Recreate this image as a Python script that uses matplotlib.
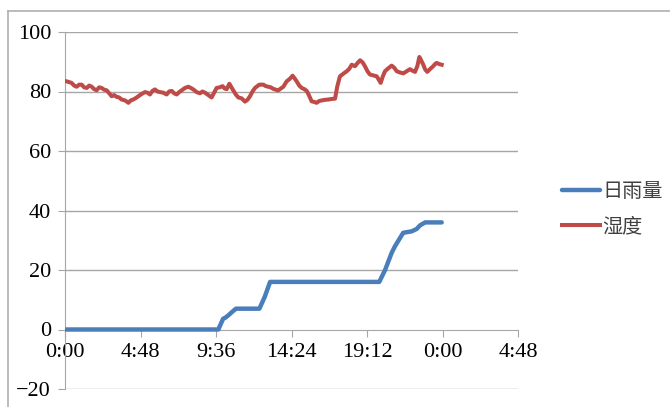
import matplotlib
matplotlib.use("Agg")
import matplotlib.pyplot as plt
from matplotlib.lines import Line2D

# rain: hours since 0:00, cumulative mm
rain_h = [0, 9.75, 10.05, 10.2, 10.37, 10.6, 10.87, 12.36, 12.7, 13.04,
          19.98, 20.35, 20.77, 20.98, 21.5, 22.04, 22.36, 22.57, 22.9, 23.95]
rain_v = [0, 0, 3.6, 4.0, 4.7, 5.8, 7.0, 7.0, 11.0, 16.0,
          16.0, 20.0, 25.8, 28.0, 32.5, 33.0, 33.8, 35.0, 36.0, 36.0]

# humidity: hours since 0:00, %
hum_h = [0.11, 0.42, 0.58, 0.74, 0.90, 1.06, 1.22, 1.38, 1.54, 1.70,
         1.85, 2.01, 2.17, 2.33, 2.49, 2.65, 2.81, 2.97, 3.12, 3.28,
         3.44, 3.60, 3.82, 4.03, 4.18, 4.34, 4.50, 4.66, 4.88, 5.09,
         5.25, 5.40, 5.56, 5.72, 5.88, 6.04, 6.25, 6.46, 6.62, 6.78,
         6.94, 7.10, 7.26, 7.42, 7.63, 7.84, 8.00, 8.16, 8.37, 8.58,
         8.74, 8.90, 9.11, 9.32, 9.48, 9.64, 9.83, 10.02, 10.15, 10.28,
         10.45, 10.58, 10.70, 10.86, 11.02, 11.23, 11.44, 11.60, 11.76, 11.92,
         12.08, 12.35, 12.61, 12.77, 12.93, 13.08, 13.24, 13.40, 13.56, 13.72,
         13.88, 14.09, 14.28, 14.47, 14.60, 14.73, 14.89, 15.05, 15.21, 15.37,
         15.52, 15.68, 15.84, 16.00, 16.16, 16.32, 16.53, 16.74, 16.95, 17.17,
         17.31, 17.48, 17.70, 17.91, 18.07, 18.23, 18.44, 18.60, 18.76, 18.92,
         19.07, 19.23, 19.39, 19.60, 19.82, 20.07, 20.20, 20.34, 20.55, 20.77,
         20.93, 21.09, 21.30, 21.51, 21.72, 21.93, 22.09, 22.25, 22.40, 22.53,
         22.65, 22.78, 22.90, 23.03, 23.22, 23.41, 23.52, 23.63, 23.80, 23.95]
hum_v = [83.4, 82.9, 82.0, 81.6, 82.3, 82.3, 81.4, 81.2, 82.0, 81.6,
         80.8, 80.4, 81.4, 81.2, 80.6, 80.4, 79.4, 78.4, 78.8, 78.2,
         78.0, 77.3, 77.0, 76.2, 77.0, 77.3, 77.8, 78.4, 79.2, 79.8,
         79.6, 79.0, 80.2, 80.7, 80.0, 79.8, 79.6, 79.0, 80.0, 80.2,
         79.4, 79.0, 79.8, 80.4, 81.2, 81.6, 81.2, 80.7, 79.8, 79.4,
         80.0, 79.6, 78.8, 78.0, 79.6, 81.2, 81.4, 81.8, 81.0, 80.8,
         82.6, 81.4, 80.4, 79.0, 78.0, 77.7, 76.6, 77.2, 78.4, 80.0,
         81.2, 82.3, 82.3, 81.8, 81.6, 81.4, 80.9, 80.6, 80.4, 81.0,
         81.6, 83.4, 84.2, 85.3, 84.4, 83.4, 82.0, 81.2, 80.8, 80.2,
         78.6, 76.7, 76.5, 76.2, 76.8, 77.0, 77.2, 77.3, 77.5, 77.6,
         81.7, 85.1, 86.0, 86.8, 87.6, 89.0, 88.5, 89.6, 90.5, 89.8,
         88.5, 86.8, 85.7, 85.4, 85.1, 82.9, 85.0, 86.8, 87.8, 88.7,
         88.0, 86.8, 86.4, 86.1, 86.8, 87.5, 87.0, 86.6, 88.5, 91.6,
         90.4, 89.0, 87.4, 86.6, 87.6, 88.5, 89.2, 89.6, 89.2, 89.0]

xticks = [0, 4.8, 9.6, 14.4, 19.2, 24.0, 28.8]
xlabels = ['0:00', '4:48', '9:36', '14:24', '19:12', '0:00', '4:48']
yticks = [-20, 0, 20, 40, 60, 80, 100]
ylabels = ['\u221220', '0', '20', '40', '60', '80', '100']

plt.rcParams['font.family'] = ['Liberation Serif', 'Noto Sans CJK SC']

fig = plt.figure(figsize=(6.7, 4.07), dpi=100)
ax = fig.add_axes([65/670, 18/407, 453/670, 357/407])

grid_c = '#a6a6a6'
for yv in yticks:
    if yv != 0:
        ax.axhline(yv, color=grid_c, lw=1.0, zorder=1)

ax.plot(rain_h, rain_v, color='#4a7ebb', lw=3.2, label='日雨量', zorder=3,
        solid_capstyle='round')
ax.plot(hum_h, hum_v, color='#be4b48', lw=2.9, label='湿度', zorder=3,
        solid_joinstyle='round')

ax.set_xlim(0, 28.8)
ax.set_ylim(-20, 100)
ax.spines['top'].set_visible(False)
ax.spines['right'].set_visible(False)
ax.spines['bottom'].set_position(('data', 0))
ax.spines['bottom'].set_color(grid_c)
ax.spines['left'].set_color(grid_c)
ax.set_xticks(xticks)
ax.set_xticklabels(xlabels)
ax.set_yticks(yticks)
ax.set_yticklabels(ylabels)
ax.tick_params(axis='both', direction='out', length=5, color=grid_c,
               labelsize=16, labelcolor='black')
ax.tick_params(axis='x', pad=5)
ax.tick_params(axis='y', pad=5)

leg = ax.legend(loc='center left', bbox_to_anchor=(562/670, 1 - 209/407),
                bbox_transform=fig.transFigure, frameon=False,
                borderpad=0, borderaxespad=0,
                handlelength=1.9, handletextpad=0.1, labelspacing=0.7,
                prop={'family': ['Noto Sans CJK SC'], 'size': 14.5})
for t in leg.get_texts():
    t.set_color('#404040')

# outer chart border
fig.add_artist(Line2D([8/670, 1], [1 - 11/407, 1 - 11/407],
                      transform=fig.transFigure, color='#b0b0b0', lw=1.2))
fig.add_artist(Line2D([8/670, 8/670], [0, 1 - 11/407],
                      transform=fig.transFigure, color='#b0b0b0', lw=1.2))

fig.savefig('out.png', dpi=100)
